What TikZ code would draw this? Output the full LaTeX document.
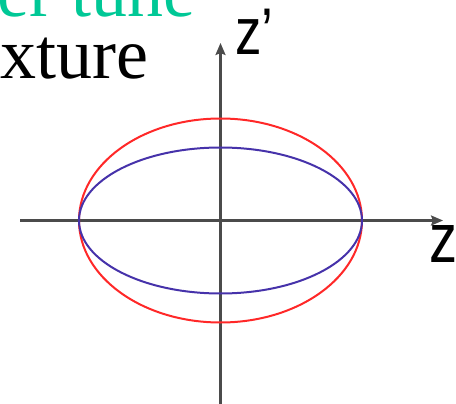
\documentclass[tikz,border=0pt]{standalone}
\usepackage{fontspec}
\setmainfont{Liberation Serif}
\newfontfamily\axisfont{Liberation Sans}
\usepackage{xcolor}
\usetikzlibrary{arrows.meta,positioning}
\definecolor{tealgreen}{RGB}{0,200,150}
\definecolor{ellred}{RGB}{255,40,40}
\definecolor{ellblue}{RGB}{70,50,170}
\definecolor{axisgrey}{RGB}{75,75,75}

\begin{document}
\begin{tikzpicture}[x=1pt, y=-1pt,
  axis/.style={-{Stealth[length=12pt, width=10pt, inset=2pt]}, line width=2.2pt, draw=axisgrey},
  axlabel/.style={anchor=base west, inner sep=0pt, font=\axisfont\fontsize{66}{66}\selectfont},
  caption/.style={anchor=base west, inner sep=0pt, font=\fontsize{72}{72}\selectfont},
  orbit/.style={line width=2pt}
]
  \useasboundingbox (0,0) rectangle (456,404);

  % axes
  \coordinate (origin) at (220.5,220.5);
  \coordinate (zbot) at (220.5,404);
  \coordinate (ztop) at (220.5,43);
  \coordinate (zleft) at (20,220.5);
  \coordinate (zright) at (443,220.5);
  \draw[axis] (zbot) -- (ztop);
  \draw[axis] (zleft) -- (zright);

  % ellipses
  \draw[orbit, ellred] (origin) ellipse [x radius=141.5pt, y radius=102pt];
  \draw[orbit, ellblue] (origin) ellipse [x radius=141.5pt, y radius=73pt];

  % labels
  \node[axlabel] (zprime) at (235,55) {\scalebox{0.8}[1]{z’}};
  \node[axlabel, font=\axisfont\fontsize{70}{70}\selectfont] (zlabel) at (429,262)
    {\scalebox{0.8}[1]{z}};

  \node[caption, text=tealgreen] (tune) at (-3,17) {er tune};
  \node[caption] (mixture) at (0,79) {xture};
\end{tikzpicture}
\end{document}
